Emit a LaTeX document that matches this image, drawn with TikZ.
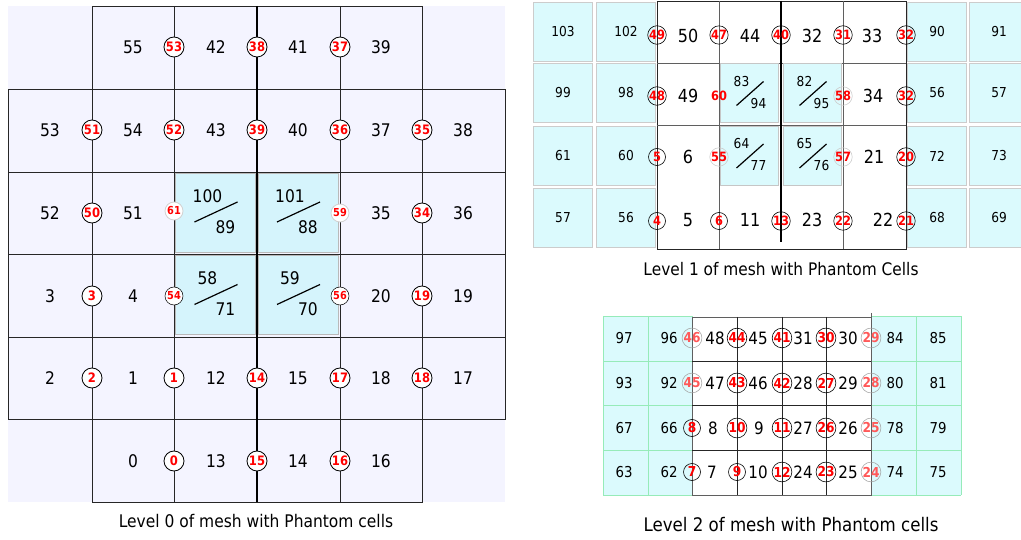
\documentclass[tikz,border=0pt]{standalone}
\usepackage{fontspec}
\setmainfont{DejaVu Sans}[FakeStretch=0.89]
\usetikzlibrary{positioning,calc}
\definecolor{meshbg}{RGB}{244,244,255}
\definecolor{ghostcyan}{RGB}{213,244,252}
\definecolor{ghostcyanlt}{RGB}{219,250,253}
\definecolor{ghostgreen}{RGB}{150,235,185}
\definecolor{gridgray}{RGB}{95,95,95}

\begin{document}
\begin{tikzpicture}[x=1pt, y=-1pt,
  gridln/.style={draw=black!85, line width=0.9pt},
  thickln/.style={draw=black, line width=2.2pt},
  slash/.style={draw=black, line width=1.2pt},
  num0/.style={font=\fontsize{17.4}{18}\selectfont, inner sep=0pt},
  num1/.style={font=\fontsize{18}{18}\selectfont, inner sep=0pt},
  num2/.style={font=\fontsize{17}{17}\selectfont, inner sep=0pt},
  small1/.style={font=\fontsize{13.7}{14}\selectfont, inner sep=0pt},
  caption/.style={font=\fontsize{17.4}{18}\selectfont, inner sep=0pt},
  face/.style={circle, draw=black, line width=0.8pt, fill=white, inner sep=0pt,
    minimum size=20pt, text=red, font=\bfseries\fontsize{13}{13}\selectfont},
  faceweak/.style={face, draw=gray!35, minimum size=18pt,
    font=\bfseries\fontsize{11}{11}\selectfont},
  facethin/.style={face, line width=0.5pt, minimum size=18pt,
    font=\bfseries\fontsize{11}{11}\selectfont},
  face1/.style={face, fill=none, line width=0.6pt, minimum size=17pt,
    font=\bfseries\fontsize{12.8}{13}\selectfont},
  face2/.style={face, fill=none, line width=0.6pt, minimum size=17pt,
    font=\bfseries\fontsize{13.7}{14}\selectfont},
  faded/.style={draw=gray!70, text=red!65},
  split0/.style={draw=gray!55, line width=1pt, fill=ghostcyan,
    minimum width=80pt, minimum height=79pt, inner sep=0pt},
  split1/.style={draw=gray!45, line width=1pt, fill=ghostcyanlt,
    minimum width=58pt, minimum height=59pt, inner sep=0pt},
  ghost1/.style={draw=gray!40, line width=1.2pt, fill=ghostcyanlt,
    minimum width=59pt, minimum height=59pt, inner sep=0pt,
    font=\fontsize{13.7}{14}\selectfont},
  ghost2/.style={font=\fontsize{15}{15}\selectfont, inner sep=0pt},
  greenln/.style={draw=ghostgreen, line width=0.9pt},
]
  \useasboundingbox (0,0) rectangle (1021,540);

  % ---------- Level 0 ----------
  \fill[meshbg] (8,6) rectangle (505,502);
  \draw[gridln] (92,6) rectangle (422,502);
  \draw[gridln] (8,89) rectangle (505,419);
  \foreach \y in {172,254,337} \draw[gridln] (8,\y) -- (505,\y);
  \foreach \x in {174,340} \draw[gridln] (\x,6) -- (\x,502);
  \draw[thickln] (257,6) -- (257,502);

  % refined cells
  \foreach \a/\b/\x/\y in {100/89/215.5/213, 101/88/298/213,
                           58/71/215.5/295.5, 59/70/298/295.5}{
    \node[split0] (l0s\a) at (\x,\y) {};
    \node[num0] (l0s\a-t) at ([shift={(-8,-17)}]l0s\a.center) {\a};
    \node[num0] (l0s\a-b) at ([shift={(10,14)}]l0s\a.center) {\b};
    \draw[slash] ([shift={(-21,9)}]l0s\a.center) -- ([shift={(22,-11)}]l0s\a.center);
  }

  % cell numbers
  \foreach \n/\x/\y in {55/133/47, 42/216/47, 41/298/47, 39/381/47,
      53/50/130, 54/133/130, 43/216/130, 40/298/130, 37/381/130, 38/463/130,
      52/50/213, 51/133/213, 35/381/213, 36/463/213,
      3/50/296, 4/133/296, 20/381/296, 19/463/296,
      2/50/378, 1/133/378, 12/216/378, 15/298/378, 18/381/378, 17/463/378,
      0/133/461, 13/216/461, 14/298/461, 16/381/461}
    \node[num0] (l0c\n) at (\x,\y) {\n};

  % face numbers
  \foreach \n/\x/\y in {53/174/47, 38/257/47, 37/340/47,
      51/92/130, 52/174/130, 39/257/130, 36/340/130, 35/422/130,
      50/92/213, 34/422/213, 3/92/296, 19/422/296,
      2/92/378, 1/174/378, 14/257/378, 17/340/378, 18/422/378,
      0/174/461, 15/257/461, 16/340/461}
    \node[face] (l0f\n) at (\x,\y) {\n};
  \node[faceweak] (l0f61) at (174,211) {61};
  \node[faceweak] (l0f59) at (340,213) {59};
  \node[facethin] (l0f54) at (174,296) {54};
  \node[facethin] (l0f56) at (340,296) {56};

  \node[caption] (cap0) at (256,521) {Level 0 of mesh with Phantom cells};

  % ---------- Level 1 ----------
  \foreach \n/\x/\y in {103/563/32, 102/626/32, 99/563/93, 98/626/93,
      61/563/156, 60/626/156, 57/563/218, 56/626/218,
      90/937/32, 91/999/32, 56/937/93, 57/999/93,
      72/937/156, 73/999/156, 68/937/218, 69/999/218}
    \node[ghost1] (l1p\n-\x) at (\x,\y) {\n};

  \draw[gridln] (657,1) rectangle (906,249);
  \foreach \y in {63,125} \draw[gridln, draw=gridgray] (657,\y) -- (906,\y);
  \foreach \x in {719,843} \draw[gridln, draw=gridgray] (\x,1) -- (\x,249);
  \draw[thickln, line width=1.8pt] (781,1) -- (781,242);

  \foreach \a/\b/\x/\y in {83/94/749.5/93.5, 82/95/812.5/93.5,
                           64/77/749.5/156, 65/76/812.5/156}{
    \node[split1] (l1s\a) at (\x,\y) {};
    \node[small1] (l1s\a-t) at ([shift={(-8,-12)}]l1s\a.center) {\a};
    \node[small1] (l1s\a-b) at ([shift={(9,10)}]l1s\a.center) {\b};
    \draw[slash] ([shift={(-13,12)}]l1s\a.center) -- ([shift={(14,-12)}]l1s\a.center);
  }

  \foreach \n/\x/\y in {50/688/36, 44/750/36, 32/812/36, 33/872/36,
      49/688/96, 34/873/96, 6/688/157, 21/874/157,
      5/688/220, 11/750/220, 23/812/220, 22/883/220}
    \node[num1] (l1c\n) at (\x,\y) {\n};

  \foreach \n/\x/\y in {49/657/35, 47/719/35, 40/781/35, 31/843/35, 32/906/35,
      48/657/96, 32/906/96, 5/657/157, 20/906/157,
      4/657/221, 6/719/221, 13/781/221, 22/843/221, 21/906/221}
    \node[face1] (l1f\n-\y) at (\x,\y) {\n};
  \node[face1, draw=none] (l1f60) at (719,96) {60};
  \node[face1, draw=gray!40] (l1f58) at (843,96) {58};
  \node[face1, draw=gray!40] (l1f55) at (719,157) {55};
  \node[face1, draw=gray!40] (l1f57) at (843,157) {57};

  \node[caption, font=\fontsize{17.3}{18}\selectfont] (cap1) at (781,269)
    {Level 1 of mesh with Phantom Cells};

  % ---------- Level 2 ----------
  \fill[ghostcyanlt] (603,316) rectangle (692,495);
  \fill[ghostcyanlt] (871,316) rectangle (961,495);
  \foreach \x in {603,648,692,871,916,961} \draw[greenln] (\x,316) -- (\x,495);
  \foreach \y in {316,361,405,450,495}{
    \draw[greenln] (603,\y) -- (692,\y);
    \draw[greenln] (871,\y) -- (961,\y);
  }
  \draw[gridln, draw=gridgray] (692,317) rectangle (871,495);
  \foreach \x in {737,782,826} \draw[gridln] (\x,317) -- (\x,495);
  \foreach \y in {361,405,450} \draw[gridln] (692,\y) -- (871,\y);
  \draw[gridln, draw=gridgray] (871,313) -- (871,317);

  \foreach \n/\x/\y in {97/624/338, 96/669/338, 84/895/338, 85/938/338,
      93/624/383, 92/669/383, 80/895/383, 81/938/383,
      67/624/428, 66/669/428, 78/895/428, 79/938/428,
      63/624/472, 62/669/472, 74/895/472, 75/938/472}
    \node[ghost2] (l2p\n) at (\x,\y) {\n};

  \foreach \n/\x/\y in {48/715/338, 45/758/338, 31/803/338, 30/848/338,
      47/715/383, 46/758/383, 28/803/383, 29/848/383,
      8/713/428, 9/759/428, 27/803/428, 26/848/428,
      7/712/472, 10/758/472, 24/803/472, 25/848/472}
    \node[num2] (l2c\n) at (\x,\y) {\n};

  \foreach \n/\x/\y in {44/737/338, 41/782/338, 30/826/338,
      43/737/383, 42/782/383, 27/826/383,
      8/692/428, 10/737/428, 11/782/428, 26/826/428,
      7/692/472, 9/737/472, 12/782/472, 23/826/472}
    \node[face2] (l2f\n) at (\x,\y) {\n};
  \foreach \n/\x/\y in {46/692/338, 29/871/338, 45/692/383, 28/871/383,
      25/871/428, 24/871/472}
    \node[face2, faded] (l2f\n) at (\x,\y) {\n};

  \node[caption, font=\fontsize{18.7}{19}\selectfont] (cap2) at (791,525)
    {Level 2 of mesh with Phantom cells};
\end{tikzpicture}
\end{document}
